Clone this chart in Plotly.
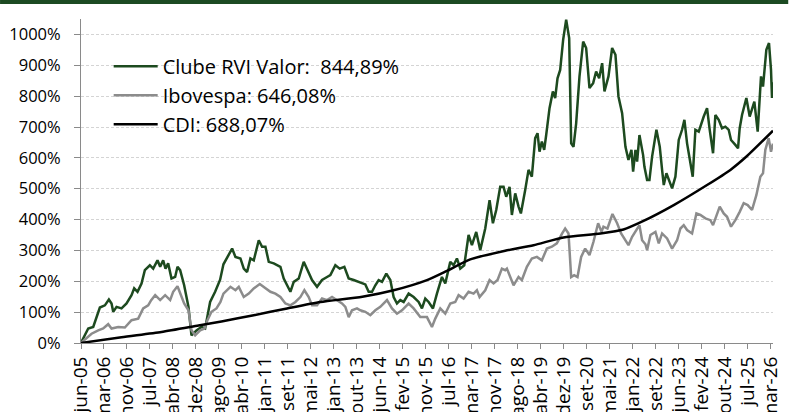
import plotly.graph_objects as go

# ---- data (time in decimal years, values in %) ----
tick_labels = ["jun-05", "mar-06", "nov-06", "jul-07", "abr-08", "dez-08", "ago-09", "abr-10",
               "jan-11", "set-11", "mai-12", "jan-13", "out-13", "jun-14", "fev-15", "nov-15",
               "jul-16", "mar-17", "nov-17", "ago-18", "abr-19", "dez-19", "set-20", "mai-21",
               "jan-22", "set-22", "jun-23", "fev-24", "out-24", "jul-25", "mar-26"]

clube_t = [2005.49, 2005.71, 2005.86, 2006.06, 2006.21, 2006.33, 2006.41, 2006.46, 2006.56, 2006.71,
           2006.86, 2007.01, 2007.09, 2007.19, 2007.31, 2007.41, 2007.56, 2007.66, 2007.79, 2007.87,
           2007.96, 2008.03, 2008.11, 2008.21, 2008.32, 2008.39, 2008.47, 2008.59, 2008.72, 2008.81,
           2008.96, 2009.11, 2009.22, 2009.37, 2009.52, 2009.67, 2009.77, 2010.03, 2010.13, 2010.28,
           2010.38, 2010.48, 2010.58, 2010.68, 2010.83, 2010.93, 2011.03, 2011.13, 2011.28, 2011.38,
           2011.48, 2011.58, 2011.68, 2011.78, 2011.88, 2012.03, 2012.18, 2012.33, 2012.43, 2012.58,
           2012.73, 2012.88, 2012.98, 2013.13, 2013.26, 2013.40, 2013.53, 2013.68, 2013.83, 2014.03,
           2014.13, 2014.23, 2014.33, 2014.43, 2014.53, 2014.66, 2014.78, 2014.88, 2014.98, 2015.08,
           2015.18, 2015.33, 2015.48, 2015.63, 2015.73, 2015.83, 2015.93, 2016.06, 2016.18, 2016.33,
           2016.43, 2016.58, 2016.68, 2016.78, 2016.88, 2017.00, 2017.13, 2017.23, 2017.36, 2017.48,
           2017.63, 2017.76, 2017.86, 2017.96, 2018.08, 2018.18, 2018.26, 2018.36, 2018.43, 2018.53,
           2018.63, 2018.70, 2018.83, 2018.93, 2019.03, 2019.13, 2019.20, 2019.26, 2019.33, 2019.40,
           2019.46, 2019.56, 2019.66, 2019.73, 2019.80, 2019.88, 2019.97, 2020.06, 2020.15, 2020.21,
           2020.28, 2020.36, 2020.46, 2020.57, 2020.66, 2020.76, 2020.87, 2020.96, 2021.05, 2021.14,
           2021.21, 2021.33, 2021.44, 2021.54, 2021.63, 2021.74, 2021.84, 2021.93, 2022.02, 2022.07,
           2022.14, 2022.19, 2022.26, 2022.37, 2022.41, 2022.49, 2022.56, 2022.64, 2022.77, 2022.87,
           2022.94, 2022.99, 2023.07, 2023.14, 2023.24, 2023.34, 2023.44, 2023.54, 2023.61, 2023.69,
           2023.79, 2023.86, 2023.94, 2024.04, 2024.19, 2024.29, 2024.37, 2024.47, 2024.54, 2024.64,
           2024.74, 2024.84, 2024.94, 2025.01, 2025.14, 2025.22, 2025.27, 2025.34, 2025.47, 2025.57,
           2025.71, 2025.81, 2025.91, 2025.97, 2026.07, 2026.15, 2026.21, 2026.24, 2026.27]
clube_v = [0, 47, 52, 115, 122, 141, 128, 101, 117, 112,
           128, 155, 177, 166, 193, 236, 252, 241, 268, 247,
           268, 241, 258, 209, 214, 247, 236, 187, 117, 25,
           41, 52, 47, 133, 166, 205, 255, 306, 279, 274,
           241, 230, 274, 268, 333, 312, 312, 263, 258, 252,
           247, 209, 187, 166, 198, 209, 263, 225, 204, 182,
           204, 214, 220, 252, 241, 247, 209, 204, 198, 190,
           166, 166, 187, 204, 198, 225, 204, 149, 128, 139,
           133, 160, 149, 133, 112, 144, 133, 112, 160, 214,
           193, 263, 252, 274, 241, 252, 350, 317, 360, 301,
           371, 463, 388, 431, 506, 506, 474, 506, 415, 485,
           442, 420, 496, 561, 539, 664, 680, 620, 653, 626,
           674, 761, 815, 794, 858, 885, 983, 1048, 988, 647,
           636, 712, 864, 977, 956, 826, 842, 880, 858, 907,
           815, 864, 956, 934, 799, 745, 636, 593, 626, 555,
           626, 588, 674, 609, 571, 528, 528, 604, 691, 636,
           561, 512, 550, 528, 501, 539, 658, 691, 723, 647,
           577, 539, 691, 685, 734, 761, 691, 615, 739, 723,
           696, 701, 691, 658, 642, 631, 696, 739, 794, 734,
           782, 685, 864, 831, 950, 972, 885, 794, 844.89]

ibov_t = [2005.49, 2005.81, 2006.01, 2006.16, 2006.31, 2006.41, 2006.61, 2006.81, 2007.01, 2007.21,
          2007.36, 2007.51, 2007.60, 2007.72, 2007.87, 2008.02, 2008.17, 2008.26, 2008.39, 2008.47,
          2008.59, 2008.72, 2008.81, 2008.92, 2009.07, 2009.20, 2009.29, 2009.41, 2009.56, 2009.68,
          2009.77, 2009.98, 2010.13, 2010.23, 2010.38, 2010.53, 2010.68, 2010.86, 2011.03, 2011.18,
          2011.33, 2011.48, 2011.63, 2011.78, 2011.93, 2012.08, 2012.20, 2012.33, 2012.43, 2012.58,
          2012.73, 2012.88, 2013.03, 2013.18, 2013.33, 2013.43, 2013.53, 2013.63, 2013.78, 2013.88,
          2014.03, 2014.18, 2014.33, 2014.48, 2014.68, 2014.83, 2014.98, 2015.13, 2015.33, 2015.48,
          2015.68, 2015.88, 2016.03, 2016.13, 2016.28, 2016.43, 2016.58, 2016.73, 2016.83, 2016.98,
          2017.13, 2017.28, 2017.38, 2017.46, 2017.63, 2017.76, 2017.88, 2018.00, 2018.13, 2018.23,
          2018.28, 2018.48, 2018.63, 2018.73, 2018.88, 2019.03, 2019.18, 2019.33, 2019.48, 2019.63,
          2019.78, 2019.94, 2020.03, 2020.13, 2020.21, 2020.30, 2020.40, 2020.51, 2020.63, 2020.76,
          2020.88, 2021.02, 2021.12, 2021.18, 2021.30, 2021.45, 2021.59, 2021.71, 2021.84, 2021.93,
          2022.04, 2022.17, 2022.26, 2022.34, 2022.44, 2022.49, 2022.59, 2022.74, 2022.84, 2022.94,
          2023.09, 2023.24, 2023.39, 2023.49, 2023.59, 2023.69, 2023.84, 2023.97, 2024.09, 2024.24,
          2024.39, 2024.47, 2024.57, 2024.67, 2024.79, 2024.89, 2025.01, 2025.14, 2025.27, 2025.39,
          2025.51, 2025.64, 2025.77, 2025.89, 2025.97, 2026.04, 2026.14, 2026.21, 2026.27]
ibov_v = [0, 30, 41, 47, 61, 47, 52, 50, 74, 79,
          112, 122, 139, 155, 139, 155, 139, 166, 184, 160,
          128, 106, 41, 25, 41, 47, 74, 101, 112, 133,
          160, 182, 171, 182, 149, 160, 177, 191, 177, 166,
          160, 149, 128, 122, 133, 149, 171, 149, 122, 122,
          144, 139, 149, 139, 128, 117, 84, 106, 112, 106,
          101, 90, 106, 117, 139, 112, 95, 106, 128, 112,
          84, 84, 52, 79, 112, 95, 128, 133, 155, 144,
          166, 160, 171, 149, 171, 204, 193, 204, 241, 236,
          241, 187, 214, 204, 247, 274, 279, 268, 306, 312,
          323, 355, 371, 355, 214, 220, 214, 279, 306, 285,
          328, 388, 360, 377, 371, 418, 388, 355, 333, 317,
          344, 366, 382, 333, 320, 301, 350, 360, 323, 355,
          339, 306, 333, 371, 382, 366, 355, 420, 415, 404,
          398, 382, 415, 442, 420, 409, 377, 398, 425, 453,
          447, 431, 479, 539, 550, 626, 664, 620, 646.08]

cdi_t = [2005.49, 2006.71, 2007.91, 2009.02, 2009.71, 2010.68, 2011.68, 2012.68, 2013.94, 2014.88,
         2015.88, 2016.48, 2017.18, 2018.23, 2019.08, 2019.98, 2021.09, 2021.78, 2022.35, 2023.29,
         2024.29, 2024.99, 2025.49, 2026.27]
cdi_v = [0, 19, 36, 57, 70, 90, 112, 133, 150, 171,
         204, 234, 271, 299, 317, 342, 355, 368, 394, 447,
         512, 561, 606, 688.07]

series_names = ["Clube RVI Valor:  844,89%", "Ibovespa: 646,08%", "CDI: 688,07%"]
series_colors = ["#1d4a1f", "#8c8c8c", "#000000"]

# ---- figure ----
FONT = "Open Sans"
t0 = 2005.493
step = 252 / 365.25
tickvals = [t0 + k * step for k in range(len(tick_labels))]

fig = go.Figure()
fig.add_trace(go.Scatter(x=clube_t, y=clube_v, mode="lines", name=series_names[0],
                         line=dict(color=series_colors[0], width=2.5), legendgroup="a"))
fig.add_trace(go.Scatter(x=ibov_t, y=ibov_v, mode="lines", name=series_names[1],
                         line=dict(color=series_colors[1], width=2.5), legendgroup="b"))
fig.add_trace(go.Scatter(x=cdi_t, y=cdi_v, mode="lines", name=series_names[2],
                         line=dict(color=series_colors[2], width=2.5, shape="spline", smoothing=0.6),
                         legendgroup="c"))

fig.update_layout(
    width=795, height=412,
    margin=dict(l=81, r=22, t=19, b=69),
    paper_bgcolor="white", plot_bgcolor="white",
    font=dict(family=FONT, color="#000000"),
    showlegend=True,
    legend=dict(x=0.04, y=0.914, xanchor="left", yanchor="top",
                bgcolor="rgba(0,0,0,0)", font=dict(size=20, family=FONT, color="#000"),
                tracegroupgap=0, itemwidth=44),
    xaxis=dict(range=[t0, 2026.27], tickmode="array", tickvals=tickvals, ticktext=tick_labels,
               tickangle=-90, tickfont=dict(size=19, family=FONT, color="#000"),
               ticklabelshift=0, automargin=False,
               showgrid=False, zeroline=False, showline=True, linecolor="#8a8a8a", linewidth=1,
               ticks="outside", ticklen=5, tickcolor="#8a8a8a"),
    yaxis=dict(range=[0, 1050], tickmode="array", tickvals=list(range(0, 1001, 100)),
               ticktext=[f"{v}%" for v in range(0, 1001, 100)],
               tickfont=dict(size=16.5, family=FONT, color="#000"), automargin=False,
               showgrid=True, gridcolor="#d4d4d4", griddash="3px,2px", gridwidth=1,
               zeroline=False, showline=True, linecolor="#8a8a8a", linewidth=1,
               ticks="outside", ticklen=6, tickcolor="#8a8a8a", ticklabelstandoff=10),
    shapes=[dict(type="rect", xref="paper", yref="paper", x0=-0.117, x1=1.022, y0=1.046, y1=1.1,
                 fillcolor="#1c4a22", line=dict(width=0), layer="above")],
)

fig.write_html("out.html", config={"displayModeBar": False},
               post_script="document.body.style.margin='0';document.body.style.overflow='hidden';")
